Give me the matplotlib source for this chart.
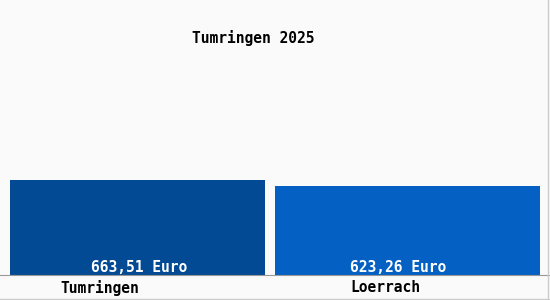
import matplotlib
matplotlib.use("Agg")
import matplotlib.pyplot as plt

categories = ["Tumringen", "Loerrach"]
values = [663.51, 623.26]
value_labels = ["663,51 Euro", "623,26 Euro"]
colors = ["#034a94", "#0560c4"]
title = "Tumringen 2025"

W, H = 550, 300
fig = plt.figure(figsize=(W / 100, H / 100), dpi=100)
fig.patch.set_facecolor("#fafafa")

# axes: bottom at y=275 px, left 10, right 540
base = 275
ax = fig.add_axes([10 / W, (H - base) / H, 530 / W, base / H])
ax.set_facecolor("#fafafa")
ax.set_xlim(0, 530)
ax.set_ylim(0, values[0] * base / 95)

lefts = [0, 265]
widths = [255, 265]
label_x = [139, 398]
for i in range(2):
    ax.bar(lefts[i], values[i], width=widths[i], align="edge", color=colors[i])
    ax.text(label_x[i] - 10, 0, value_labels[i], ha="center", va="bottom",
            color="white", fontsize=10.5, family="DejaVu Sans Mono", weight="bold")

for s in ax.spines.values():
    s.set_visible(False)
ax.set_xticks([])
ax.set_yticks([])

# baseline
fig.add_artist(plt.Line2D([0, 1], [(H - base) / H, (H - base) / H], color="#999999", lw=0.8))
# right/bottom border
fig.add_artist(plt.Line2D([548 / W, 548 / W], [0, 1], color="#cccccc", lw=1))
fig.add_artist(plt.Line2D([0, 1], [1.5 / H, 1.5 / H], color="#cccccc", lw=1))

cat_x = [100, 385]
for i in range(2):
    fig.text(cat_x[i] / W, 1 - 288 / H, categories[i], ha="center", va="center",
             fontsize=10.5, family="DejaVu Sans Mono", weight="bold")
fig.text(253 / W, 1 - 38 / H, title, ha="center", va="center",
         fontsize=10.5, family="DejaVu Sans Mono", weight="bold")

fig.savefig("out.png", dpi=100, facecolor=fig.get_facecolor())
